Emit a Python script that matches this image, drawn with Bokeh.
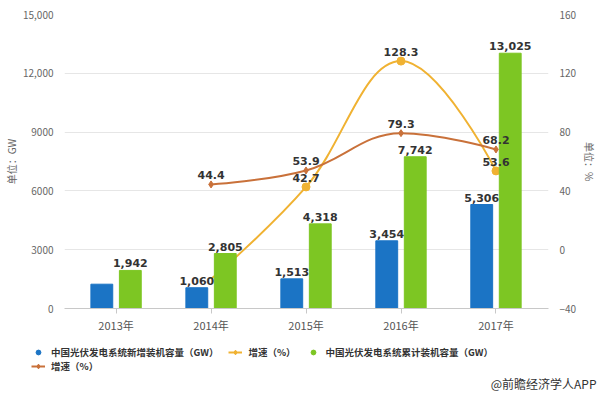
from bokeh.plotting import figure
from bokeh.models import (Range1d, LinearAxis, FixedTicker, Legend, LegendItem, Label,
                          ColumnDataSource)
from bokeh.core.properties import value
from bokeh.embed import file_html
from bokeh.resources import INLINE

# ---------------- data ----------------
years = ["2013年", "2014年", "2015年", "2016年", "2017年"]
new_capacity = [1240, 1060, 1513, 3454, 5306]          # 新增装机容量
cum_capacity = [1942, 2805, 4318, 7742, 13025]         # 累计装机容量
new_growth = [None, -20.0, 42.7, 128.3, 53.6]          # 增速(%) yellow
cum_growth = [None, 44.4, 53.9, 79.3, 68.2]            # 增速(%) orange
new_labels = ["", "1,060", "1,513", "3,454", "5,306"]
left_ticks = [0, 3000, 6000, 9000, 12000, 15000]
left_tick_labels = ["0", "3000", "6000", "9000", "12,000", "15,000"]
right_ticks = [-40, 0, 40, 80, 120, 160]
legend_names = ["中国光伏发电系统新增装机容量（GW）", "增速（%）",
                "中国光伏发电系统累计装机容量（GW）", "增速（%）"]

BLUE = "#1b74c5"
GREEN = "#7dc623"
YELLOW = "#f0b232"
ORANGE = "#c9713a"
FONT = "Noto Sans CJK SC"
NUMFONT = "DejaVu Sans"

xs = list(range(len(years)))

p = figure(width=600, height=342, output_backend="svg", toolbar_location=None,
           x_range=Range1d(-0.543, 4.553), y_range=Range1d(0, 15000),
           min_border_left=62, min_border_right=50, min_border_top=14,
           min_border_bottom=34)
p.extra_y_ranges = {"pct": Range1d(-40, 160)}
p.outline_line_color = None
p.background_fill_color = "white"

# axes
p.xaxis.ticker = FixedTicker(ticks=xs)
p.xaxis.major_label_overrides = {i: y for i, y in enumerate(years)}
p.xaxis.axis_line_color = "#c8c8c8"
p.xaxis.major_tick_line_color = "#c8c8c8"
p.xaxis.major_tick_out = 5
p.xaxis.major_tick_in = 0
p.xaxis.minor_tick_line_color = None
p.xaxis.major_label_text_font = FONT
p.xaxis.major_label_text_font_size = "11px"
p.xaxis.major_label_text_color = "#555555"
p.xaxis.major_label_standoff = 3

p.yaxis.ticker = FixedTicker(ticks=left_ticks)
p.yaxis.major_label_overrides = {t: l for t, l in zip(left_ticks, left_tick_labels)}
p.yaxis.axis_line_color = None
p.yaxis.major_tick_line_color = None
p.yaxis.minor_tick_line_color = None
p.yaxis.major_label_text_font = FONT
p.yaxis.major_label_text_font_size = "10px"
p.yaxis.major_label_text_color = "#666666"
p.yaxis.major_label_standoff = 5
p.yaxis.axis_label = "单位：GW"
p.yaxis.axis_label_text_font = FONT
p.yaxis.axis_label_text_font_size = "10px"
p.yaxis.axis_label_text_font_style = "normal"
p.yaxis.axis_label_text_color = "#666666"
p.yaxis.axis_label_standoff = 1

ry = LinearAxis(y_range_name="pct", ticker=FixedTicker(ticks=right_ticks),
                axis_label="单位：%")
ry.axis_line_color = None
ry.major_tick_line_color = None
ry.minor_tick_line_color = None
ry.major_label_text_font = FONT
ry.major_label_text_font_size = "10px"
ry.major_label_text_color = "#666666"
ry.major_label_standoff = 5
ry.axis_label_text_font = FONT
ry.axis_label_text_font_size = "10px"
ry.axis_label_text_font_style = "normal"
ry.axis_label_text_color = "#666666"
ry.axis_label_standoff = 3
p.add_layout(ry, "right")

p.xgrid.grid_line_color = None
p.ygrid.grid_line_color = "#e6e6e6"
p.ygrid.ticker = FixedTicker(ticks=left_ticks)


def spline(xv, yv, smoothing=1.5):
    pts = [(x, y) for x, y in zip(xv, yv) if y is not None]
    n = len(pts)
    lc = [None] * n
    rc = [None] * n
    d = smoothing + 1
    for i in range(1, n - 1):
        (lx, ly), (px, py), (nx, ny) = pts[i - 1], pts[i], pts[i + 1]
        lcx = (smoothing * px + lx) / d
        lcy = (smoothing * py + ly) / d
        rcx = (smoothing * px + nx) / d
        rcy = (smoothing * py + ny) / d
        corr = (rcy - lcy) * (rcx - px) / (rcx - lcx) + py - rcy
        lcy += corr
        rcy += corr
        if lcy > ly and lcy > py:
            lcy = max(ly, py); rcy = 2 * py - lcy
        elif lcy < ly and lcy < py:
            lcy = min(ly, py); rcy = 2 * py - lcy
        if rcy > ny and rcy > py:
            rcy = max(ny, py); lcy = 2 * py - rcy
        elif rcy < ny and rcy < py:
            rcy = min(ny, py); lcy = 2 * py - rcy
        lc[i] = (lcx, lcy)
        rc[i] = (rcx, rcy)
    seg = dict(x0=[], y0=[], x1=[], y1=[], cx0=[], cy0=[], cx1=[], cy1=[])
    for i in range(1, n):
        a, b = pts[i - 1], pts[i]
        c0 = rc[i - 1] or a
        c1 = lc[i] or b
        seg["x0"].append(a[0]); seg["y0"].append(a[1])
        seg["x1"].append(b[0]); seg["y1"].append(b[1])
        seg["cx0"].append(c0[0]); seg["cy0"].append(c0[1])
        seg["cx1"].append(c1[0]); seg["cy1"].append(c1[1])
    return seg, pts


OFF = 0.15
BW = 0.23
# blue bars
p.vbar(x=[x - OFF for x in xs], top=new_capacity, width=BW, color=BLUE)

# yellow line (drawn before green bars); its 2014 point is hidden in the reference
yseg, ypts = spline(xs, new_growth)
yvis = ypts[1:]
p.bezier(source=ColumnDataSource(yseg), x0="x0", y0="y0", x1="x1", y1="y1",
         cx0="cx0", cy0="cy0", cx1="cx1", cy1="cy1", line_color=YELLOW,
         line_width=2, y_range_name="pct")
p.scatter(x=[q[0] for q in yvis], y=[q[1] for q in yvis], size=8, marker="circle",
          color=YELLOW, y_range_name="pct")

# green bars
p.vbar(x=[x + OFF for x in xs], top=cum_capacity, width=BW, color=GREEN)

# orange line
oseg, opts = spline(xs, cum_growth)
p.bezier(source=ColumnDataSource(oseg), x0="x0", y0="y0", x1="x1", y1="y1",
         cx0="cx0", cy0="cy0", cx1="cx1", cy1="cy1", line_color=ORANGE,
         line_width=2, y_range_name="pct")
p.scatter(x=[q[0] for q in opts], y=[q[1] for q in opts], size=7, marker="diamond",
          color=ORANGE, y_range_name="pct")

# data labels
lab_kw = dict(text_font=value(NUMFONT), text_font_size="11px", text_font_style="bold",
              text_color="#333333", text_align="center", text_baseline="bottom")
p.text(x=[x - OFF for x in xs[1:]], y=new_capacity[1:], text=new_labels[1:],
       y_offset=-3, **lab_kw)
p.text(x=[x + OFF for x in xs], y=cum_capacity, text=[f"{v:,}" for v in cum_capacity],
       y_offset=-3, **lab_kw)
p.text(x=[q[0] for q in yvis], y=[q[1] for q in yvis], text=[f"{q[1]:.1f}" for q in yvis],
       y_offset=-5, y_range_name="pct", **lab_kw)
p.text(x=[q[0] for q in opts], y=[q[1] for q in opts], text=[f"{q[1]:.1f}" for q in opts],
       y_offset=-5, y_range_name="pct", **lab_kw)

# ---------------- legend strip (separate root, frame = whole canvas) ----------------
lg = figure(width=600, height=53, output_backend="svg", toolbar_location=None,
            x_range=Range1d(0, 600), y_range=Range1d(0, 53),
            min_border_left=0, min_border_right=0, min_border_top=0,
            min_border_bottom=0)
lg.axis.visible = False
lg.grid.visible = False
lg.outline_line_color = None

# proxy renderers for legend glyphs (their single point lies outside the strip)
r_blue = lg.scatter(x=[-100], y=[-100], marker="circle", size=11, color=BLUE)
r_yl = lg.line(x=[-100, -90], y=[-100, -100], line_color=YELLOW, line_width=2)
r_ym = lg.scatter(x=[-100], y=[-100], marker="diamond", size=9, color=YELLOW)
r_green = lg.scatter(x=[-100], y=[-100], marker="circle", size=11, color=GREEN)
r_ol = lg.line(x=[-100, -90], y=[-100, -100], line_color=ORANGE, line_width=2)
r_om = lg.scatter(x=[-100], y=[-100], marker="diamond", size=9, color=ORANGE)

leg_kw = dict(orientation="horizontal", glyph_width=14, glyph_height=12,
              label_standoff=6, spacing=10, padding=0, margin=0,
              border_line_color=None, background_fill_alpha=0,
              label_text_font=FONT, label_text_font_size="9.5px",
              label_text_font_style="bold", label_text_color="#333333",
              label_height=12)
leg1 = Legend(items=[LegendItem(label=legend_names[0], renderers=[r_blue]),
                     LegendItem(label=legend_names[1], renderers=[r_yl, r_ym]),
                     LegendItem(label=legend_names[2], renderers=[r_green])],
              location=(31, 36), **leg_kw)
leg2 = Legend(items=[LegendItem(label=legend_names[3], renderers=[r_ol, r_om])],
              location=(31, 22), **leg_kw)
lg.add_layout(leg1, "center")
lg.add_layout(leg2, "center")

credit = Label(x=596, y=12, x_units="screen", y_units="screen", text="@前瞻经济学人APP",
               text_font=FONT, text_font_size="12px", text_color="#333333",
               text_align="right", text_baseline="middle")
lg.add_layout(credit)

open("out.html", "w").write(file_html([p, lg], INLINE))
